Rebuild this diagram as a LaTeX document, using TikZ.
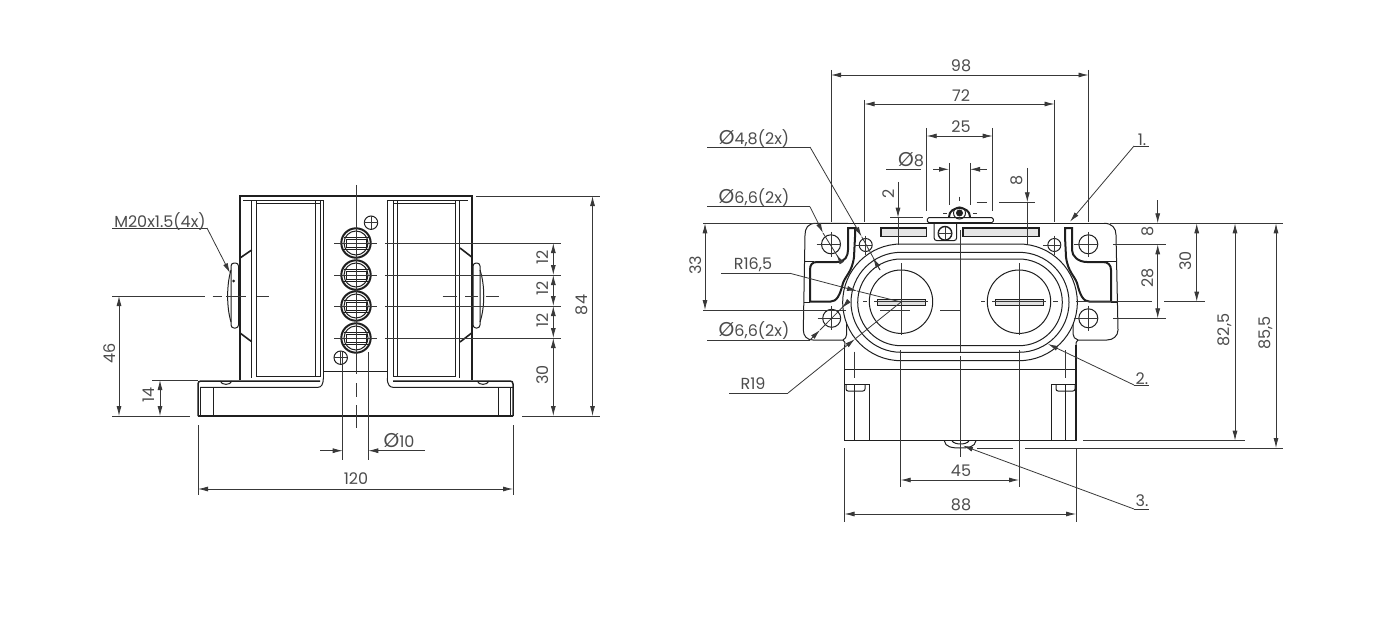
\documentclass[tikz,border=0pt]{standalone}
\usepackage{fontspec}
\usepackage{tikz}
\usetikzlibrary{arrows.meta}
\setmainfont{Poppins}
\definecolor{inkline}{gray}{0.12}
\definecolor{inkdim}{gray}{0.22}
\definecolor{inktext}{gray}{0.3}
\newcommand*{\axisR}{960}
\newcommand*{\holeTop}{244.3}
\newcommand*{\holeLow}{318.3}
\newcommand*{\dia}{{\fontsize{20}{20}\selectfont Ø}}
\tikzset{
  edge/.style={draw=inkline,line width=1pt},
  heavy/.style={draw=inkline,line width=2pt},
  extline/.style={draw=inkdim,line width=0.8pt},
  dimline/.style={draw=inkdim,line width=0.8pt,{Latex[length=10pt,width=5pt]}-{Latex[length=10pt,width=5pt]}},
  tipline/.style={draw=inkdim,line width=0.8pt,-{Latex[length=10pt,width=5pt]}},
  dimtext/.style={text=inktext,font=\fontsize{16}{16}\selectfont,inner sep=0pt}
}
\begin{document}
\begin{tikzpicture}[x=1pt,y=-1pt]
    \useasboundingbox (0,0) rectangle (1380,631);

    % left view, body
    \draw [heavy] (239.5,380) -- (239.5,196) -- (471.7,196) -- (471.7,380);
    \foreach \i in {251.7,323.3,387.3,459.3} {
      \draw [edge,line width=1.5pt] (\i,200) -- (\i,378);
    }
    \foreach \i in {256.7,315,320,393.3,397.3,455} {
      \draw [edge] (\i,201) -- (\i,377);
    }
    \draw [edge] (243,200) -- (323,200);
    \draw [edge] (387,200) -- (468,200);
    \draw [edge] (256.7,203.5) -- (320,203.5);
    \draw [edge] (393.3,203.5) -- (455,203.5);
    \draw [edge] (256.7,376.7) -- (320,376.7);
    \draw [edge] (393.3,376.7) -- (455,376.7);
    \draw [edge,line width=1.5pt] (323.3,371.7) -- (387.3,371.7);
    \draw [heavy,line width=1.6pt] (345,196.5) -- (366,196.5);
    \draw [heavy,line width=1.6pt] (240,258) -- (251.7,250);
    \draw [heavy,line width=1.6pt] (240,333) -- (251.7,341.7);
    \draw [heavy,line width=1.6pt] (460,248) -- (471.7,257);
    \draw [heavy,line width=1.6pt] (460,342) -- (471.7,333);

    % left view, base
    \draw [edge,line width=1.5pt] (198,416) -- (198,384) .. controls (198,382) and (199,381) .. (201,381) -- (320,381);
    \draw [edge,line width=1.5pt] (513,416) -- (513,384) .. controls (513,382) and (512,381) .. (510,381) -- (393,381);
    \draw [edge,line width=1.5pt] (198,416) -- (513,416);
    \draw [edge] (200,387.3) -- (318,387.3) .. controls (321,387.3) and (323.3,385) .. (323.3,378);
    \draw [edge] (513,387.3) -- (393,387.3) .. controls (390,387.3) and (387.3,385) .. (387.3,378);
    \foreach \i in {200.5,213,498,510.5} {
      \draw [edge] (\i,387) -- (\i,416);
    }
    \draw [edge] (220,381) .. controls (222,385.5) and (230,385.5) .. (232,381);
    \draw [edge] (477,381) .. controls (479,385.5) and (487,385.5) .. (489,381);
    \draw [heavy] (330,416) -- (350,416);

    % cable glands
    \draw [edge,rounded corners=3pt] (231,263) rectangle (238.5,328);
    \draw [edge] (231,270) .. controls (226.5,285) and (226.5,307) .. (231,322);
    \fill [inkline] (233.5,281) circle (1.5);
    \draw [edge,rounded corners=3pt] (473,263) rectangle (480,328);
    \draw [edge] (480,270) .. controls (485,285) and (485,307) .. (480,322);

    % terminals
    \foreach \i in {243,275,306,338} {
      \draw [heavy] (356,\i) circle (14.7);
      \draw [edge] (356,\i) circle (12);
      \draw [edge] (343.5,\i-6) -- (368.5,\i-6);
      \draw [edge] (343.5,\i+6) -- (368.5,\i+6);
      \draw [edge] (346,\i-4) rectangle (366,\i+4);
      \draw [edge] (350,\i) -- (362,\i);
      \draw [extline] (334,\i) -- (377,\i);
      \draw [extline] (385,\i) -- (561,\i);
    }
    \foreach \a/\b in {371/222.7,340.7/357.7} {
      \draw [edge] (\a,\b) circle (6.7);
      \draw [extline] (\a-6.7,\b) -- (\a+6.7,\b);
      \draw [extline] (\a,\b-6.7) -- (\a,\b+6.7);
    }

    % left view, axes
    \draw [extline] (356,185) -- (356,374);
    \draw [extline] (356,383) -- (356,397);
    \draw [extline] (356,405) -- (356,428);
    \draw [extline] (112,296) -- (205,296);
    \foreach \a/\b in {212.7/221.7,226/245.7,256.7/269.3,442.7/456.7,465/478,485.7/499} {
      \draw [extline] (\a,296) -- (\b,296);
    }

    % left view, extension lines
    \draw [extline] (342.7,352) -- (342.7,460);
    \draw [extline] (368.3,352) -- (368.3,460);
    \draw [extline] (198,425) -- (198,495);
    \draw [extline] (513,425) -- (513,495);
    \draw [extline] (476,196) -- (600,196);
    \draw [extline] (522,416) -- (600,416);
    \draw [extline] (112,416) -- (190,416);
    \draw [extline] (152,380) -- (198,380);

    % right view, housing
    \draw [edge] (816,223.3) -- (1104,223.3);
    \draw [edge] (848,223.3) -- (816,223.3) .. controls (808,223.3) and (805,228) .. (805,235)
      -- (803.3,330) .. controls (803.3,336) and (807,340) .. (813,340) -- (843,340)
      .. controls (845,341) and (845,343) .. (845,346);
    \draw [edge] (1104,223.3) .. controls (1112,223.3) and (1116,228) .. (1116,235)
      -- (1118,330) .. controls (1118,336) and (1113,340) .. (1107,340) -- (1078,340)
      .. controls (1076,341) and (1076,343) .. (1076,346);
    \draw [edge] (846.7,300) -- (846.7,334) .. controls (846.7,337) and (845,339) .. (843,340);
    \draw [edge] (1073,300) -- (1073,334) .. controls (1073,337) and (1075,339) .. (1078,340);
    \draw [edge] (805,261) -- (814,261);
    \draw [edge] (803.5,302) -- (810,302);
    \draw [edge] (1087,261) -- (1116,261);
    \draw [edge] (1111,302) -- (1118,302);
    \draw [edge,line width=1.4pt] (844.5,345) -- (844.5,440.7) -- (1076,440.7) -- (1076,345);
    \draw [edge] (844.5,369.3) -- (1076,369.3);

    % latches
    \draw [heavy] (848,228) -- (855,228) -- (855,237) -- (854,257) .. controls (852,272) and (846,275) .. (843,283)
      .. controls (840,295) and (837,301.7) .. (830,301.7) -- (810,301.7) -- (810,270)
      .. controls (810,265) and (812,262) .. (817,262) -- (837,262) .. controls (845,262) and (848,256) .. (848,250) -- cycle;
    \draw [heavy] (1072,228) -- (1065,228) -- (1065,237) -- (1066,257) .. controls (1068,272) and (1074,275) .. (1077,283)
      .. controls (1080,295) and (1083,301.7) .. (1090,301.7) -- (1111,301.7) -- (1111,270)
      .. controls (1111,265) and (1108,262) .. (1103,262) -- (1087,262) .. controls (1078,262) and (1072,256) .. (1072,250) -- cycle;

    % right view, sealing rings
    \draw [edge,fill=white,rounded corners=58.3pt] (842.7,244) rectangle (1077.3,360.7);
    \draw [edge,rounded corners=50pt] (851,252.3) rectangle (1069,352.3);
    \draw [edge,rounded corners=43.3pt] (857.7,259) rectangle (1062.3,345.7);

    % right view, screws
    \foreach \a in {901,1019} {
      \draw [edge] (\a,301.7) circle (31.7);
      \draw [edge,fill=black!12] (\a-24,299) rectangle (\a+24,305);
      \draw [extline] (\a-38,301.7) -- (\a-34,301.7);
      \draw [extline] (\a-27,301.7) -- (\a+27,301.7);
      \draw [extline] (\a,263) -- (\a,335);
    }
    \draw [extline] (1053,301.7) -- (1058,301.7);

    % right view, holes
    \foreach \a/\b/\c in {831/\holeTop/9.5,831.7/\holeLow/9,1088.3/\holeTop/9.5,1088.3/\holeLow/9.5,865.7/245/6.5,1054.3/245/6.5} {
      \draw [edge] (\a,\b) circle (\c);
      \draw [extline] (\a-\c-5,\b) -- (\a+\c,\b);
      \draw [extline] (\a,\b-\c-3) -- (\a,\b+\c+3);
    }
    \draw [extline] (1113,\holeTop) -- (1166,\holeTop);
    \draw [extline] (1113,\holeLow) -- (1166,\holeLow);

    % right view, top parts
    \draw [edge,line width=1.4pt,fill=black!10] (881,228) rectangle (926.7,236.7);
    \draw [edge,line width=1.4pt,fill=black!10] (963,228) rectangle (1039,236.7);
    \draw [edge,fill=white,rounded corners=1.5pt] (927.3,217.7) rectangle (993.3,222.7);
    \draw [edge,rounded corners=3pt] (934,223) -- (934,240.7) -- (956.7,240.7) -- (956.7,223);
    \draw [edge,line width=1.4pt] (945,233.3) circle (6.8);
    \draw [extline] (938,233.3) -- (952,233.3);
    \draw [extline] (945,226.5) -- (945,240);
    \draw [heavy] (949,217) .. controls (949,205) and (970,205) .. (970,217);
    \fill [inkline] (959.5,213) circle (3.5);
    \draw [edge] (959.5,213) circle (6);
    \draw [extline] (959.5,196.5) -- (959.5,200.5);
    \draw [extline] (943,213) -- (947,213);
    \draw [extline] (973,213) -- (977,213);

    % right view, pockets and button
    \foreach \a/\b/\c/\d/\e in {854.3/869/846/865/351.7,1065/1051.7/1056/1075/350} {
      \draw [edge] (\a,384) -- (\a,440.7);
      \draw [edge] (\b,384) -- (\b,440.7);
      \draw [edge] (844.5,384) -- (869,384);
      \draw [edge] (1051.7,384) -- (1076,384);
      \draw [edge,rounded corners=2pt] (\c,384) -- (\c,391) -- (\d,391) -- (\d,384);
      \draw [extline] (\a,\e) -- (\a,378);
    }
    \draw [edge] (944.3,440.7) .. controls (945,447) and (952,448) .. (960,448) .. controls (968,448) and (975,447) .. (976,440.7);
    \draw [edge] (952,441) .. controls (955,445) and (966,445) .. (969,441);

    % right view, axes
    \draw [extline] (\axisR,230) -- (\axisR,352);
    \draw [extline] (\axisR,356) -- (\axisR,456.7);
    \draw [extline] (703,310) -- (846,310);
    \draw [extline] (880,310) -- (910,310);
    \draw [extline] (940,310) -- (\axisR,310);
    \draw [extline] (1076,301.7) -- (1152,301.7);
    \draw [extline] (1164,301.7) -- (1205,301.7);

    % right view, extension lines
    \foreach \a/\b/\c in {831/70/222,1088.5/70/222,864.5/100/222,1054.5/100/222,926.7/128/210.7,992.7/128/210.7,949/163/205,970/163/205,900.7/350/487,1019/350/487,844.5/448/522,1076/448/522} {
      \draw [extline] (\a,\b) -- (\a,\c);
    }
    \foreach \a/\b/\c in {703/816/223.3,1110/1283/223.3,1083/1245/440.7,1025/1283/448,977/1013/448,890/923/217.7,999/1035/202.3,976.7/987/202.3,886/921/169.3} {
      \draw [extline] (\a,\c) -- (\b,\c);
    }

    % dimension lines
    \foreach \a/\b/\c in {198/513/489,831/1088.5/75,864.5/1054.5/104,926.7/992.7/136,900.7/1019/480,844.5/1076/514} {
      \draw [dimline] (\a,\c) -- (\b,\c);
    }
    \foreach \a/\b/\c in {592.5/196/416,119/296/416,160/380/416,553.3/243/275,553.3/275/306,553.3/306/338,553.3/338/416,705/223.3/310,1157.7/244.3/318.3,1196.7/223.3/301.7,1235/223.3/440.7,1276/223.3/448} {
      \draw [dimline] (\a,\b) -- (\a,\c);
    }
    \draw [tipline] (320,450.7) -- (342.7,450.7);
    \draw [tipline] (425,450.7) -- (368.3,450.7);
    \draw [tipline] (933,169.3) -- (949,169.3);
    \draw [tipline] (986.7,169.3) -- (970,169.3);
    \draw [tipline] (898,182) -- (898,217.7);
    \draw [extline] (898,217.7) -- (898,245);
    \draw [tipline] (1027.3,168) -- (1027.3,202.3);
    \draw [extline] (1027.3,202.3) -- (1027.3,244);
    \draw [tipline] (1157.7,200) -- (1157.7,223.3);

    % leaders
    \foreach \a/\b/\c/\d/\e in {112/207/228/230/273,707/810/147/861.7/236.7,707/810/206.7/823/233,707/810/340/820/330,721/790/273.3/857/291,729/788/393/855/339} {
      \draw [extline] (\a,\c) -- (\b,\c);
      \draw [tipline] (\b,\c) -- (\d,\e);
    }
    \draw [extline] (861.7,236.7) -- (880,270);
    \draw [tipline] (880,270) -- (873,258);
    \draw [extline] (823,233) -- (841.7,263);
    \draw [tipline] (841.7,263) -- (836.5,254.5);
    \draw [extline] (820,330) -- (846.7,303);
    \draw [tipline] (846.7,303) -- (842,308);
    \draw [extline] (857,291) -- (901,302);
    \draw [extline] (855,339) -- (901,302);
    \foreach \a/\b/\c/\d/\e in {1134/1149/146/1070/221.7,1134/1149/385/1048/344,1134/1149/509/963/445.7} {
      \draw [extline] (\a,\c) -- (\b,\c);
      \draw [tipline] (\a,\c) -- (\d,\e);
    }

    % labels
    \foreach \a/\b/\t [count=\i] in {356/479/120,399/441/{\dia 10},160/222/{M20x1.5(4x)},961/66/98,961/96/72,961/127/25,911/160/{\dia 8},961/471/45,961/505/88,754/139/{\dia 4,8(2x)},754/198/{\dia 6,6(2x)},754/331/{\dia 6,6(2x)},753/265/{R16,5},753/384/R19,1142/140/1.,1142/379/2.,1142/501/3.} {
      \node [dimtext] (lab\i) at (\a,\b) {\t};
    }
    \foreach \a/\b/\t [count=\i] in {110/353/46,149/395/14,543/257/12,543/288/12,543/320/12,543/375/30,582/305/84,696/265/33,889/194/2,1017/180/8,1148/231/8,1148/278/28,1186/261/30,1225/330/{82,5},1266/333/{85,5}} {
      \node [dimtext,rotate=90] (rot\i) at (\a,\b) {\t};
    }
\end{tikzpicture}
\end{document}
